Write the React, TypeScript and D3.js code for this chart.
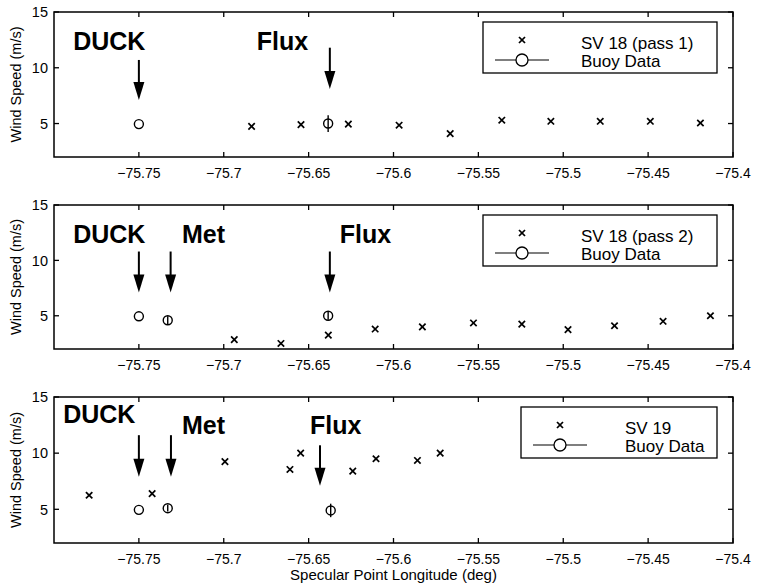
import React from "react";
import * as d3 from "d3";

// Axis ranges and tick values shared by all three panels
const lonDomain: [number, number] = [-75.8, -75.4];
const speedDomain: [number, number] = [2, 15];
const lonTicks = [-75.75, -75.7, -75.65, -75.6, -75.55, -75.5, -75.45, -75.4];
const speedTicks = [5, 10, 15];

// GPS specular-point wind speed retrievals
const sv18Pass1Lon = [-75.6836, -75.6545, -75.6266, -75.5967, -75.5666, -75.5362, -75.5073, -75.4782, -75.4487, -75.4192];
const sv18Pass1Speed = [4.75, 4.9, 4.95, 4.85, 4.1, 5.3, 5.2, 5.2, 5.2, 5.05];

const sv18Pass2Lon = [-75.6938, -75.6663, -75.6384, -75.6108, -75.583, -75.5529, -75.5244, -75.4972, -75.4698, -75.4412, -75.4133];
const sv18Pass2Speed = [2.85, 2.5, 3.25, 3.8, 4.0, 4.35, 4.25, 3.75, 4.1, 4.5, 5.0];

const sv19Lon = [-75.7793, -75.7422, -75.6993, -75.661, -75.6547, -75.624, -75.6103, -75.5859, -75.5725];
const sv19Speed = [6.25, 6.4, 9.25, 8.55, 10.0, 8.4, 9.5, 9.35, 10.0];

// Buoy observations: longitude, speed, error half-width
const buoyPass1Lon = [-75.75, -75.6385];
const buoyPass1Speed = [4.95, 5.0];
const buoyPass1Err = [0, 0.75];

const buoyPass2Lon = [-75.75, -75.733, -75.6385];
const buoyPass2Speed = [4.95, 4.6, 5.0];
const buoyPass2Err = [0, 0.35, 0.35];

const buoySv19Lon = [-75.75, -75.733, -75.637];
const buoySv19Speed = [4.95, 5.1, 4.9];
const buoySv19Err = [0, 0.3, 0.6];

// Station annotations: name, label anchor (lon, speed), arrow (lon, top speed, tip speed)
const stationNames = ["DUCK", "Met", "Flux"];
const pass1Labels = { DUCK: [-75.7887, 11.6], Flux: [-75.6805, 11.6] } as Record<string, number[]>;
const pass1Arrows = { DUCK: [-75.75, 10.7, 7.1], Flux: [-75.6375, 11.8, 8.1] } as Record<string, number[]>;
const pass2Labels = { DUCK: [-75.7887, 11.6], Met: [-75.7246, 11.6], Flux: [-75.6316, 11.6] } as Record<string, number[]>;
const pass2Arrows = { DUCK: [-75.75, 10.8, 7.1], Met: [-75.7313, 10.8, 7.1], Flux: [-75.6375, 10.8, 7.1] } as Record<string, number[]>;
const sv19Labels = { DUCK: [-75.7946, 12.7], Met: [-75.7246, 11.7], Flux: [-75.6492, 11.7] } as Record<string, number[]>;
const sv19Arrows = { DUCK: [-75.75, 11.6, 7.9], Met: [-75.7311, 11.6, 7.9], Flux: [-75.6433, 10.7, 7.1] } as Record<string, number[]>;

const legendNames = ["SV 18 (pass 1)", "SV 18 (pass 2)", "SV 19"];

const FONT = "'Liberation Sans', Arial, Helvetica, sans-serif";
const LEFT = 54;
const RIGHT = 733;

type PanelProps = {
  top: number;
  bottom: number;
  satLon: number[];
  satSpeed: number[];
  buoyLon: number[];
  buoySpeed: number[];
  buoyErr: number[];
  labels: Record<string, number[]>;
  arrows: Record<string, number[]>;
  legendName: string;
  legendWidth: number;
  showXLabel?: boolean;
};

function Cross({ cx, cy, r }: { cx: number; cy: number; r: number }) {
  return (
    <g stroke="#000" strokeWidth={1.7}>
      <line x1={cx - r} y1={cy - r} x2={cx + r} y2={cy + r} />
      <line x1={cx - r} y1={cy + r} x2={cx + r} y2={cy - r} />
    </g>
  );
}

function Panel(p: PanelProps) {
  const x = d3.scaleLinear().domain(lonDomain).range([LEFT, RIGHT]);
  const y = d3.scaleLinear().domain(speedDomain).range([p.bottom, p.top]);
  const tick = 5;
  const legRight = 717;
  const legLeft = legRight - p.legendWidth;
  const legTop = p.top + 10;
  const legH = 51;
  const midY = (p.top + p.bottom) / 2;

  return (
    <g>
      {/* frame */}
      <rect x={LEFT} y={p.top} width={RIGHT - LEFT} height={p.bottom - p.top} fill="none" stroke="#000" strokeWidth={1.5} />
      {/* x ticks, inward on bottom and top */}
      {lonTicks.map((t) => (
        <g key={"xt" + t}>
          <line x1={x(t)} x2={x(t)} y1={p.bottom} y2={p.bottom - tick} stroke="#000" strokeWidth={1.3} />
          <line x1={x(t)} x2={x(t)} y1={p.top} y2={p.top + tick} stroke="#000" strokeWidth={1.3} />
          <text x={x(t)} y={p.bottom + 21} textAnchor="middle" fontSize={14} fontFamily={FONT}>
            {d3.format("")(t).replace("-", "\u2212")}
          </text>
        </g>
      ))}
      {/* y ticks, inward on left and right */}
      {speedTicks.map((t) => (
        <g key={"yt" + t}>
          <line x1={LEFT} x2={LEFT + tick} y1={y(t)} y2={y(t)} stroke="#000" strokeWidth={1.3} />
          <line x1={RIGHT} x2={RIGHT - tick} y1={y(t)} y2={y(t)} stroke="#000" strokeWidth={1.3} />
          <text x={LEFT - 6} y={y(t)} dy="0.36em" textAnchor="end" fontSize={14.5} fontFamily={FONT}>
            {t}
          </text>
        </g>
      ))}
      <text
        transform={`translate(21,${midY}) rotate(-90)`}
        textAnchor="middle"
        fontSize={14.5}
        fontFamily={FONT}
      >
        Wind Speed (m/s)
      </text>

      {/* satellite retrievals */}
      {p.satLon.map((lon, i) => (
        <Cross key={"s" + i} cx={x(lon)} cy={y(p.satSpeed[i])} r={3.2} />
      ))}

      {/* buoy data with error bars */}
      {p.buoyLon.map((lon, i) => (
        <g key={"b" + i} stroke="#000" fill="none" strokeWidth={1.4}>
          <circle cx={x(lon)} cy={y(p.buoySpeed[i])} r={4.5} />
          {p.buoyErr[i] > 0 && (
            <line
              x1={x(lon)}
              x2={x(lon)}
              y1={y(p.buoySpeed[i] - p.buoyErr[i])}
              y2={y(p.buoySpeed[i] + p.buoyErr[i])}
            />
          )}
        </g>
      ))}

      {/* station labels and arrows */}
      {stationNames.filter((n) => p.labels[n]).map((n) => (
        <text
          key={"l" + n}
          x={x(p.labels[n][0])}
          y={y(p.labels[n][1])}
          fontSize={25}
          fontWeight="bold"
          fontFamily={FONT}
        >
          {n}
        </text>
      ))}
      {stationNames.filter((n) => p.arrows[n]).map((n) => {
        const [lon, s0, s1] = p.arrows[n];
        const ax = x(lon);
        const y0 = y(s0);
        const y1 = y(s1);
        const headLen = 18;
        const headW = 5.5;
        return (
          <g key={"a" + n}>
            <line x1={ax} x2={ax} y1={y0} y2={y1 - headLen + 2} stroke="#000" strokeWidth={2} />
            <path d={`M${ax - headW},${y1 - headLen} L${ax + headW},${y1 - headLen} L${ax},${y1} Z`} fill="#000" />
          </g>
        );
      })}

      {/* legend */}
      <g>
        <rect x={legLeft} y={legTop} width={p.legendWidth} height={legH} fill="#fff" stroke="#000" strokeWidth={1.3} />
        <Cross cx={legLeft + 39} cy={legTop + 18} r={3} />
        <line x1={legLeft + 12} x2={legLeft + 66} y1={legTop + 38} y2={legTop + 38} stroke="#000" strokeWidth={1.2} />
        <circle cx={legLeft + 39} cy={legTop + 38} r={6} fill="#fff" stroke="#000" strokeWidth={1.3} />
        <text x={legLeft + (p.legendWidth > 210 ? 98 : 104)} y={legTop + 27} fontSize={17} fontFamily={FONT}>
          {p.legendName}
        </text>
        <text x={legLeft + (p.legendWidth > 210 ? 98 : 104)} y={legTop + 45} fontSize={17} fontFamily={FONT}>
          Buoy Data
        </text>
      </g>

      {p.showXLabel && (
        <text x={(LEFT + RIGHT) / 2} y={p.bottom + 37} textAnchor="middle" fontSize={15} fontFamily={FONT}>
          Specular Point Longitude (deg)
        </text>
      )}
    </g>
  );
}

export default function App() {
  return (
    <svg
      width={764}
      height={585}
      style={{ position: "absolute", left: 0, top: 0, background: "#fff" }}
    >
      <rect width={764} height={585} fill="#fff" />
      <Panel
        top={12}
        bottom={157}
        satLon={sv18Pass1Lon}
        satSpeed={sv18Pass1Speed}
        buoyLon={buoyPass1Lon}
        buoySpeed={buoyPass1Speed}
        buoyErr={buoyPass1Err}
        labels={pass1Labels}
        arrows={pass1Arrows}
        legendName={legendNames[0]}
        legendWidth={234}
      />
      <Panel
        top={205}
        bottom={349}
        satLon={sv18Pass2Lon}
        satSpeed={sv18Pass2Speed}
        buoyLon={buoyPass2Lon}
        buoySpeed={buoyPass2Speed}
        buoyErr={buoyPass2Err}
        labels={pass2Labels}
        arrows={pass2Arrows}
        legendName={legendNames[1]}
        legendWidth={234}
      />
      <Panel
        top={397}
        bottom={543}
        satLon={sv19Lon}
        satSpeed={sv19Speed}
        buoyLon={buoySv19Lon}
        buoySpeed={buoySv19Speed}
        buoyErr={buoySv19Err}
        labels={sv19Labels}
        arrows={sv19Arrows}
        legendName={legendNames[2]}
        legendWidth={196}
        showXLabel
      />
    </svg>
  );
}
